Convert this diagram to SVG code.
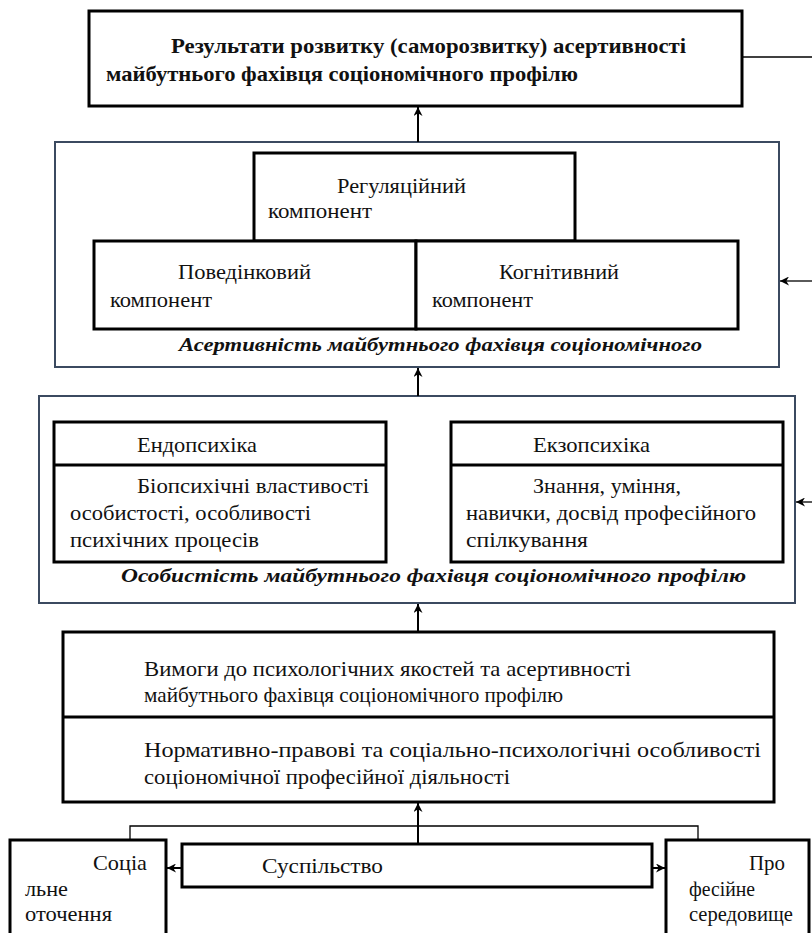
<svg xmlns="http://www.w3.org/2000/svg" width="812" height="933" viewBox="0 0 812 933">
<defs>
<marker id="ah" viewBox="0 0 10 10" refX="10" refY="5" markerWidth="9" markerHeight="9" markerUnits="userSpaceOnUse" orient="auto">
<path d="M0,0 L10,5 L0,10 L3,5 Z" fill="#000"/>
</marker>
<style>
.thick{fill:#fff;stroke:#000;stroke-width:3}
.cont{fill:#fff;stroke:#3b4a60;stroke-width:2}
text{font-family:"Liberation Serif","DejaVu Serif","Times New Roman",serif;font-size:21px;fill:#111}
.b{font-weight:bold}
.bi{font-weight:bold;font-style:italic;font-size:19px}
.conn{fill:none;stroke:#000;stroke-width:2}
.thin{fill:none;stroke:#000;stroke-width:1.3}
</style>
</defs>
<rect width="812" height="933" fill="#fff"/>

<g id="results">
<rect class="thick" x="89" y="11" width="653" height="95"/>
<text class="b" x="171" y="53" textLength="515" lengthAdjust="spacingAndGlyphs">Результати розвитку (саморозвитку) асертивності</text>
<text class="b" x="106" y="81" textLength="472" lengthAdjust="spacingAndGlyphs">майбутнього фахівця соціономічного профілю</text>
</g>

<g id="assertiveness">
<rect class="cont" x="55" y="142" width="724" height="225"/>
<text class="bi" x="179" y="351" textLength="523" lengthAdjust="spacingAndGlyphs">Асертивність майбутнього фахівця соціономічного</text>
</g>
<g id="regulatory">
<rect class="thick" x="254" y="153" width="321" height="88"/>
<text x="337" y="193" textLength="129" lengthAdjust="spacingAndGlyphs">Регуляційний</text>
<text x="268" y="218" textLength="104" lengthAdjust="spacingAndGlyphs">компонент</text>
</g>
<g id="behavioral">
<rect class="thick" x="94" y="241" width="322" height="88"/>
<text x="178" y="279" textLength="133" lengthAdjust="spacingAndGlyphs">Поведінковий</text>
<text x="110" y="307" textLength="102" lengthAdjust="spacingAndGlyphs">компонент</text>
</g>
<g id="cognitive">
<rect class="thick" x="416" y="241" width="322" height="88"/>
<text x="499" y="279" textLength="120" lengthAdjust="spacingAndGlyphs">Когнітивний</text>
<text x="432" y="307" textLength="101" lengthAdjust="spacingAndGlyphs">компонент</text>
</g>

<g id="personality">
<rect class="cont" x="39" y="396" width="756" height="207"/>
<text class="bi" x="121" y="582" textLength="625" lengthAdjust="spacingAndGlyphs">Особистість майбутнього фахівця соціономічного профілю</text>
</g>
<g id="endopsyche">
<rect class="thick" x="54" y="422" width="332" height="140"/>
<line x1="54" y1="465" x2="386" y2="465" stroke="#000" stroke-width="3"/>
<text x="137" y="452" textLength="120" lengthAdjust="spacingAndGlyphs">Ендопсихіка</text>
<text x="137" y="493" textLength="232" lengthAdjust="spacingAndGlyphs">Біопсихічні властивості</text>
<text x="70" y="520" textLength="241" lengthAdjust="spacingAndGlyphs">особистості, особливості</text>
<text x="70" y="547" textLength="189" lengthAdjust="spacingAndGlyphs">психічних процесів</text>
</g>
<g id="exopsyche">
<rect class="thick" x="451" y="422" width="332" height="140"/>
<line x1="451" y1="465" x2="783" y2="465" stroke="#000" stroke-width="3"/>
<text x="533" y="452" textLength="117" lengthAdjust="spacingAndGlyphs">Екзопсихіка</text>
<text x="533" y="493" textLength="148" lengthAdjust="spacingAndGlyphs">Знання, уміння,</text>
<text x="466" y="520" textLength="290" lengthAdjust="spacingAndGlyphs">навички, досвід професійного</text>
<text x="466" y="547" textLength="122" lengthAdjust="spacingAndGlyphs">спілкування</text>
</g>

<g id="requirements">
<rect class="thick" x="63" y="632" width="711" height="170"/>
<line x1="63" y1="717" x2="774" y2="717" stroke="#000" stroke-width="3"/>
<text x="144" y="676" textLength="487" lengthAdjust="spacingAndGlyphs">Вимоги до психологічних якостей та асертивності</text>
<text x="144" y="702" textLength="419" lengthAdjust="spacingAndGlyphs">майбутнього фахівця соціономічного профілю</text>
<text x="144" y="757" textLength="617" lengthAdjust="spacingAndGlyphs">Нормативно-правові та соціально-психологічні особливості</text>
<text x="144" y="784" textLength="366" lengthAdjust="spacingAndGlyphs">соціономічної професійної діяльності</text>
</g>

<g id="social">
<rect class="thick" x="10" y="840" width="156" height="110"/>
<text x="93" y="870" textLength="54" lengthAdjust="spacingAndGlyphs">Соціа</text>
<text x="25" y="896" textLength="43" lengthAdjust="spacingAndGlyphs">льне</text>
<text x="25" y="921" textLength="87" lengthAdjust="spacingAndGlyphs">оточення</text>
</g>
<g id="society">
<rect class="thick" x="182" y="844" width="470" height="43"/>
<text x="262" y="873" textLength="121" lengthAdjust="spacingAndGlyphs">Суспільство</text>
</g>
<g id="professional">
<rect class="thick" x="666" y="840" width="143" height="110"/>
<text x="749" y="870" textLength="36" lengthAdjust="spacingAndGlyphs">Про</text>
<text x="689" y="896" textLength="66" lengthAdjust="spacingAndGlyphs">фесійне</text>
<text x="689" y="921" textLength="104" lengthAdjust="spacingAndGlyphs">середовище</text>
</g>

<g id="connectors">
<line class="conn" x1="418" y1="142" x2="418" y2="107" marker-end="url(#ah)"/>
<line class="conn" x1="418" y1="396" x2="418" y2="368" marker-end="url(#ah)"/>
<line class="conn" x1="418" y1="632" x2="418" y2="604" marker-end="url(#ah)"/>
<line class="conn" x1="418" y1="844" x2="418" y2="803" marker-end="url(#ah)"/>
<line class="thin" x1="742" y1="57" x2="812" y2="57"/>
<line class="thin" x1="812" y1="281" x2="780" y2="281" marker-end="url(#ah)"/>
<line class="thin" x1="812" y1="502" x2="796" y2="502" marker-end="url(#ah)"/>
<polyline class="thin" points="130,840 130,826 698,826 698,840"/>
<line class="conn" x1="182" y1="868" x2="167" y2="868" marker-end="url(#ah)"/>
<line class="conn" x1="652" y1="868" x2="665" y2="868" marker-end="url(#ah)"/>
</g>
</svg>
